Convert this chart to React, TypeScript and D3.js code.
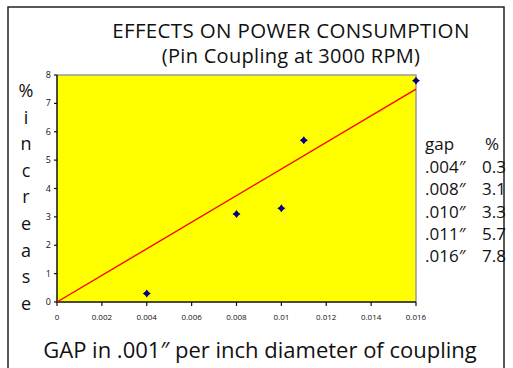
import React from "react";
import * as d3 from "d3";

// Measured gap (inches per inch of coupling diameter) and power increase (%)
const gaps = [0.004, 0.008, 0.01, 0.011, 0.016];
const increases = [0.3, 3.1, 3.3, 5.7, 7.8];
const gapLabels = [".004\u2033", ".008\u2033", ".010\u2033", ".011\u2033", ".016\u2033"];
const increaseLabels = ["0.3", "3.1", "3.3", "5.7", "7.8"];

// Trend line end points
const trendX = [0, 0.016];
const trendY = [0, 7.5];

const xTicks = [0, 0.002, 0.004, 0.006, 0.008, 0.01, 0.012, 0.014, 0.016];
const xTickLabels = ["0", "0.002", "0.004", "0.006", "0.008", "0.01", "0.012", "0.014", "0.016"];
const yTicks = [0, 1, 2, 3, 4, 5, 6, 7, 8];
const yLetters = ["%", "i", "n", "c", "r", "e", "a", "s", "e"];

const W = 513;
const H = 368;
const plot = { left: 57, right: 416, top: 75, bottom: 302 };
const FONT = "'Open Sans', 'DejaVu Sans', sans-serif";

// Four-pointed star marker
const starType = {
  draw(context: d3.Path, size: number) {
    const r = Math.sqrt(size) / 2;
    const k = r * 0.42;
    context.moveTo(0, -r);
    context.lineTo(k, -k);
    context.lineTo(r, 0);
    context.lineTo(k, k);
    context.lineTo(0, r);
    context.lineTo(-k, k);
    context.lineTo(-r, 0);
    context.lineTo(-k, -k);
    context.closePath();
  },
};

export default function App() {
  const x = d3.scaleLinear().domain([0, 0.016]).range([plot.left, plot.right]);
  const y = d3.scaleLinear().domain([0, 8]).range([plot.bottom, plot.top]);
  const line = d3
    .line<number>()
    .x((_, i) => x(trendX[i]))
    .y((d) => y(d));
  const marker = d3.symbol().type(starType as any).size(64)();

  return (
    <svg
      width={W}
      height={H}
      style={{ position: "absolute", left: 0, top: 0, background: "#fff" }}
      fontFamily={FONT}
    >
      {/* outer frame */}
      <rect x={8} y={7} width={496} height={380} fill="none" stroke="#222" strokeWidth={1.5} />

      <text x={291} y={38} textAnchor="middle" fontSize={20.5} letterSpacing={0.35} fill="#111">
        EFFECTS ON POWER CONSUMPTION
      </text>
      <text x={291} y={63} textAnchor="middle" fontSize={20} letterSpacing={0.3} fill="#111">
        (Pin Coupling at 3000 RPM)
      </text>

      {/* plot area */}
      <rect
        x={plot.left}
        y={plot.top}
        width={plot.right - plot.left}
        height={plot.bottom - plot.top}
        fill="#ffff00"
      />
      <path
        d={`M${plot.left},${plot.top}H${plot.right}V${plot.bottom}`}
        fill="none"
        stroke="#9a9a9a"
        strokeWidth={1.5}
      />
      <path
        d={`M${plot.left},${plot.top}V${plot.bottom}H${plot.right}`}
        fill="none"
        stroke="#111"
        strokeWidth={1.5}
      />

      {/* y ticks */}
      {yTicks.map((t) => (
        <g key={"y" + t}>
          <line x1={plot.left - 3} x2={plot.left} y1={y(t)} y2={y(t)} stroke="#111" strokeWidth={1.2} />
          <text x={plot.left - 6} y={y(t) + 3} textAnchor="end" fontSize={9} fill="#111">
            {t}
          </text>
        </g>
      ))}

      {/* x ticks */}
      {xTicks.map((t, i) => (
        <g key={"x" + i}>
          <line x1={x(t)} x2={x(t)} y1={plot.bottom} y2={plot.bottom + 4} stroke="#111" strokeWidth={1.2} />
          <text x={x(t)} y={plot.bottom + 18} textAnchor="middle" fontSize={8} fill="#111">
            {xTickLabels[i]}
          </text>
        </g>
      ))}

      {/* trend line */}
      <path d={line(trendY) ?? ""} fill="none" stroke="#ff0000" strokeWidth={1.4} />

      {/* data points */}
      {gaps.map((g, i) => (
        <path key={"p" + i} d={marker ?? ""} transform={`translate(${x(g)},${y(increases[i])})`} fill="#000080" />
      ))}

      {/* vertical y-axis caption */}
      {yLetters.map((ch, i) => (
        <text key={"l" + i} x={26} y={97 + i * 26.6} textAnchor="middle" fontSize={18} fill="#111">
          {ch}
        </text>
      ))}

      {/* data table */}
      <text x={425} y={150} fontSize={17} fill="#111">gap</text>
      <text x={485} y={150} fontSize={17} fill="#111">%</text>
      {gapLabels.map((g, i) => (
        <g key={"r" + i}>
          <text x={425} y={173 + i * 22.3} fontSize={17} fill="#111">{g}</text>
          <text x={482} y={173 + i * 22.3} fontSize={17} fill="#111">{increaseLabels[i]}</text>
        </g>
      ))}

      <text x={260} y={358} textAnchor="middle" fontSize={22} fill="#111">
        GAP in .001{"\u2033"} per inch diameter of coupling
      </text>
    </svg>
  );
}
